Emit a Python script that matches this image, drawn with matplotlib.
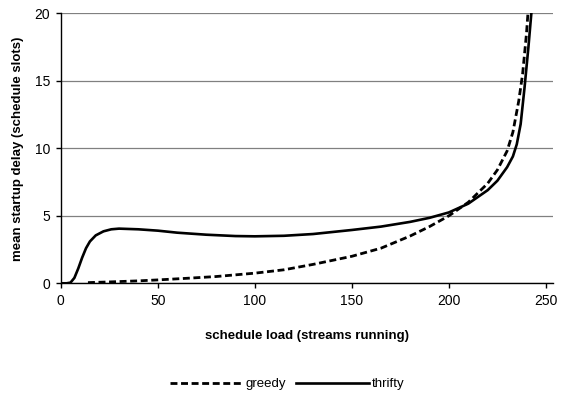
import matplotlib
matplotlib.use("Agg")
import matplotlib.pyplot as plt

# values
thrifty_x = [0, 3, 5, 7, 9, 11, 13, 15, 18, 22, 26, 30, 40, 50, 60, 75, 90, 100,
             115, 130, 150, 165, 180, 190, 200, 210, 220, 225, 230, 233, 235,
             237, 239, 241, 242.5]
thrifty_y = [0, 0, 0.05, 0.4, 1.1, 1.9, 2.6, 3.1, 3.55, 3.85, 4.0, 4.05, 4.0,
             3.9, 3.75, 3.6, 3.5, 3.48, 3.52, 3.65, 3.95, 4.2, 4.55, 4.85, 5.25,
             5.9, 6.9, 7.6, 8.6, 9.4, 10.3, 11.8, 14.5, 17.5, 20]

greedy_x = [14, 25, 40, 50, 65, 80, 100, 115, 130, 150, 165, 180, 190, 200,
            210, 220, 225, 230, 233, 236, 238, 240, 241]
greedy_y = [0.05, 0.1, 0.18, 0.25, 0.37, 0.5, 0.75, 1.0, 1.4, 2.0, 2.6, 3.5,
            4.2, 5.0, 6.0, 7.4, 8.4, 9.8, 11.2, 13.5, 15.5, 18.5, 20.5]

x_ticks = [0, 50, 100, 150, 200, 250]
y_ticks = [0, 5, 10, 15, 20]

plt.rcParams['font.family'] = ['Liberation Sans', 'DejaVu Sans']

fig = plt.figure(figsize=(5.63, 3.94), dpi=100)
ax = fig.add_axes([0.108, 0.281, 0.874, 0.685])

ax.plot(greedy_x, greedy_y, color='black', lw=2.0, dashes=(2.5, 1.3),
        label='greedy')
ax.plot(thrifty_x, thrifty_y, color='black', lw=1.9, label='thrifty')

ax.set_xlim(0, 253.6)
ax.set_ylim(0, 20)
ax.set_xticks(x_ticks)
ax.set_yticks(y_ticks)
ax.yaxis.grid(True, color='#808080', lw=0.9)
ax.set_axisbelow(True)

for s in ['top', 'right']:
    ax.spines[s].set_visible(False)
for s in ['left', 'bottom']:
    ax.spines[s].set_linewidth(1.0)

ax.tick_params(axis='both', direction='out', length=3.6, width=1.0,
               labelsize=10, pad=4)

ax.set_xlabel('schedule load (streams running)', fontsize=9.5,
              fontweight='bold', labelpad=16)
ax.set_ylabel('mean startup delay (schedule slots)', fontsize=9.5,
              fontweight='bold', labelpad=8)

fig.legend(loc='center', bbox_to_anchor=(0.51, 0.025), ncol=2, frameon=False,
           fontsize=9.5, handlelength=5.5, columnspacing=0.8, handletextpad=0.2)

fig.savefig('out.png', dpi=100)
